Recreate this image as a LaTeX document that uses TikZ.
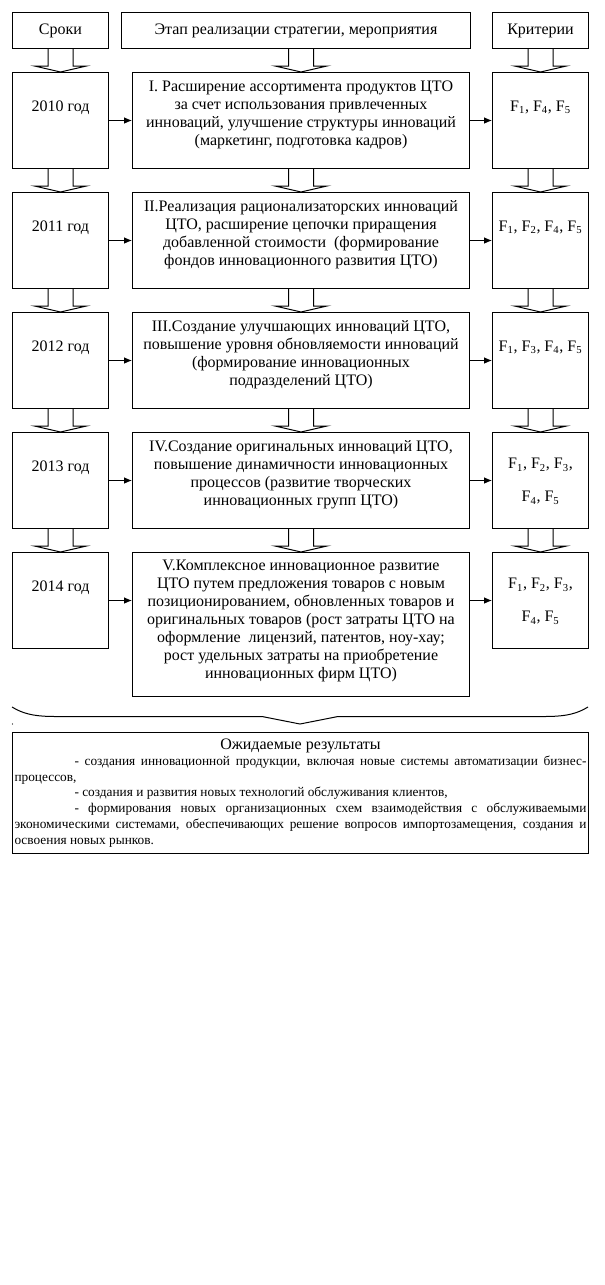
\documentclass[tikz,border=0pt]{standalone}
\usepackage{fontspec}
\setmainfont{Liberation Serif}
\usetikzlibrary{calc,arrows.meta}

\begin{document}
\begin{tikzpicture}[x=0.75pt,y=-0.75pt,line width=0.75pt,
	font=\fontsize{12}{13.5}\selectfont,
	box/.style={draw,anchor=north west,inner sep=0pt,minimum width=72pt,minimum height=72pt},
	txt/.style={anchor=north,inner sep=0pt,align=center,execute at begin node={\rule{0pt}{9pt}}},
	ftxt/.style={txt,font=\fontsize{12}{24.75}\selectfont},
	arr/.style={-{Latex[length=6pt,width=5pt]}}]

	\useasboundingbox (0,0) rectangle (605,1285);

	% headers
	\node[box,minimum height=27pt] (hsrok) at (12,12) {Сроки};
	\node[box,minimum width=261.75pt,minimum height=27pt] (hetap) at (121,12) {Этап реализации стратегии, мероприятия};
	\node[box,minimum height=27pt] (hkrit) at (492,12) {Критерии};

	% 2010
	\node[box] (srok1) at (12,72) {};
	\node[box,minimum width=252.75pt] (etap1) at (132,72) {};
	\node[box] (krit1) at (492,72) {};
	\node[txt] (srok1t) at ($(srok1.north)+(0,27)$) {2010 год};
	\node[txt] (etap1t) at ($(etap1.north)+(0,8)$) {I. Расширение ассортимента продуктов ЦТО\\
		за счет использования привлеченных\\
		инноваций, улучшение структуры инноваций\\
		(маркетинг, подготовка кадров)};
	\node[ftxt] (krit1t) at ($(krit1.north)+(0,27)$) {F\textsubscript{1}, F\textsubscript{4}, F\textsubscript{5}};

	% 2011
	\node[box] (srok2) at (12,192) {};
	\node[box,minimum width=252.75pt] (etap2) at (132,192) {};
	\node[box] (krit2) at (492,192) {};
	\node[txt] (srok2t) at ($(srok2.north)+(0,27)$) {2011 год};
	\node[txt] (etap2t) at ($(etap2.north)+(0,8)$) {II.Реализация рационализаторских инноваций\\
		ЦТО, расширение цепочки приращения\\
		добавленной стоимости \ (формирование\\
		фондов инновационного развития ЦТО)};
	\node[ftxt] (krit2t) at ($(krit2.north)+(0,27)$) {F\textsubscript{1}, F\textsubscript{2}, F\textsubscript{4}, F\textsubscript{5}};

	% 2012
	\node[box] (srok3) at (12,312) {};
	\node[box,minimum width=252.75pt] (etap3) at (132,312) {};
	\node[box] (krit3) at (492,312) {};
	\node[txt] (srok3t) at ($(srok3.north)+(0,27)$) {2012 год};
	\node[txt] (etap3t) at ($(etap3.north)+(0,8)$) {III.Создание улучшающих инноваций ЦТО,\\
		повышение уровня обновляемости инноваций\\
		(формирование инновационных\\
		подразделений ЦТО)};
	\node[ftxt] (krit3t) at ($(krit3.north)+(0,27)$) {F\textsubscript{1}, F\textsubscript{3}, F\textsubscript{4}, F\textsubscript{5}};

	% 2013
	\node[box] (srok4) at (12,432) {};
	\node[box,minimum width=252.75pt] (etap4) at (132,432) {};
	\node[box] (krit4) at (492,432) {};
	\node[txt] (srok4t) at ($(srok4.north)+(0,27)$) {2013 год};
	\node[txt] (etap4t) at ($(etap4.north)+(0,8)$) {IV.Создание оригинальных инноваций ЦТО,\\
		повышение динамичности инновационных\\
		процессов (развитие творческих\\
		инновационных групп ЦТО)};
	\node[ftxt] (krit4t) at ($(krit4.north)+(0,26)$) {F\textsubscript{1}, F\textsubscript{2}, F\textsubscript{3},\\
		F\textsubscript{4}, F\textsubscript{5}};

	% 2014
	\node[box] (srok5) at (12,552) {};
	\node[box,minimum width=252.75pt,minimum height=108pt] (etap5) at (132,552) {};
	\node[box] (krit5) at (492,552) {};
	\node[txt] (srok5t) at ($(srok5.north)+(0,27)$) {2014 год};
	\node[txt] (etap5t) at ($(etap5.north)+(0,8)$) {V.Комплексное инновационное развитие\\
		ЦТО путем предложения товаров с новым\\
		позиционированием, обновленных товаров и\\
		оригинальных товаров (рост затраты ЦТО на\\
		оформление \ лицензий, патентов, ноу-хау;\\
		рост удельных затраты на приобретение\\
		инновационных фирм ЦТО)};
	\node[ftxt] (krit5t) at ($(krit5.north)+(0,26)$) {F\textsubscript{1}, F\textsubscript{2}, F\textsubscript{3},\\
		F\textsubscript{4}, F\textsubscript{5}};

	% hollow arrows down the columns
	\foreach \a/\b in {hsrok/srok1,srok1/srok2,srok2/srok3,srok3/srok4,srok4/srok5,
		hetap/etap1,etap1/etap2,etap2/etap3,etap3/etap4,etap4/etap5,
		hkrit/krit1,krit1/krit2,krit2/krit3,krit3/krit4,krit4/krit5}
		\draw ($(\a.south -| \b.north)+(-12.5,0)$) -- ($(\b.north)+(-12.5,-6)$) -- ($(\b.north)+(-26,-6)$)
			-- (\b.north) -- ($(\b.north)+(26,-6)$) -- ($(\b.north)+(12.5,-6)$) -- ($(\a.south -| \b.north)+(12.5,0)$);

	% arrows along the rows
	\foreach \r in {1,...,5} {
		\draw[arr] (srok\r.east) -- (srok\r.east -| etap\r.west);
		\draw[arr] (srok\r.east -| etap\r.east) -- (krit\r.west);
	}

	% brace
	\draw (12,707) .. controls (22,713) and (32,716.5) .. (55,716.5) -- (262,716.5) -- (300,724)
		-- (338,716.5) -- (545,716.5) .. controls (568,716.5) and (578,713) .. (588,707);
	\fill (12.5,724) circle (0.6);

	% results
	\node[box,text width=429pt,minimum height=90.75pt,inner xsep=1.5pt,align=justify,
		font=\fontsize{10}{11.8}\selectfont] (res) at (12,732) {%
		{\centering\fontsize{12}{12}\selectfont Ожидаемые результаты\par}
		\hspace*{45pt}- создания инновационной продукции, включая новые системы автоматизации бизнес-\linebreak процессов,\par
		\hspace*{45pt}- создания и развития новых технологий обслуживания клиентов,\par
		\hspace*{45pt}- формирования новых организационных схем взаимодействия с обслуживаемыми\linebreak
		экономическими системами, обеспечивающих решение вопросов импортозамещения, создания и\linebreak
		освоения новых рынков.};

\end{tikzpicture}
\end{document}
